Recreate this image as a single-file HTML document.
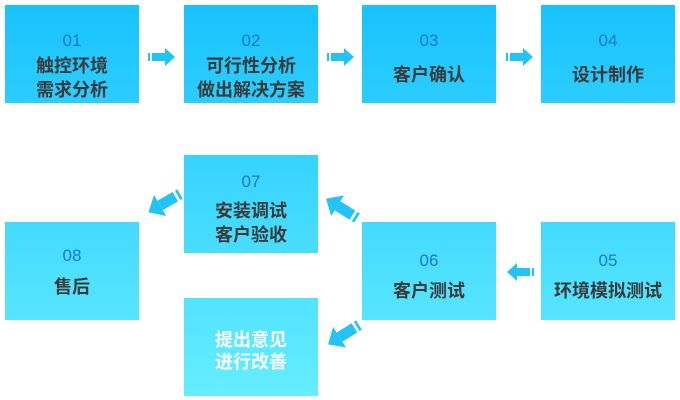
<!DOCTYPE html>
<html><head><meta charset="utf-8"><style>
body{margin:0;width:680px;height:400px;background:#fff;position:relative;overflow:hidden;font-family:"Liberation Sans","Noto Sans CJK SC",sans-serif}
.b{position:absolute;width:134px;height:98px;background:linear-gradient(to bottom,#17c2fe 0px,#66eeff 400px);background-attachment:fixed;text-align:center;box-sizing:border-box}
.n{color:#1a78cc;font-size:17px;line-height:20px;height:20px}
.t{color:#3a3a3a;font-weight:bold;font-size:18px;line-height:24px}
.w{color:#fff;line-height:22px}
svg{position:absolute;left:0;top:0}
</style></head><body>
<div class="b" style="left:5px;top:5px;padding-top:26px"><div class="n" style="margin-bottom:3px">01</div><div class="t">触控环境<br>需求分析</div></div>
<div class="b" style="left:184px;top:5px;padding-top:26px"><div class="n" style="margin-bottom:3px">02</div><div class="t">可行性分析<br>做出解决方案</div></div>
<div class="b" style="left:362px;top:5px;padding-top:26px"><div class="n" style="margin-bottom:12px">03</div><div class="t">客户确认</div></div>
<div class="b" style="left:541px;top:5px;padding-top:26px"><div class="n" style="margin-bottom:12px">04</div><div class="t">设计制作</div></div>
<div class="b" style="left:184px;top:155px;padding-top:17px"><div class="n" style="margin-bottom:7px">07</div><div class="t">安装调试<br>客户验收</div></div>
<div class="b" style="left:5px;top:222px;padding-top:24px"><div class="n" style="margin-bottom:9px">08</div><div class="t">售后</div></div>
<div class="b" style="left:362px;top:222px;padding-top:29px"><div class="n" style="margin-bottom:8px">06</div><div class="t">客户测试</div></div>
<div class="b" style="left:541px;top:222px;padding-top:29px"><div class="n" style="margin-bottom:8px">05</div><div class="t">环境模拟测试</div></div>
<div class="b" style="left:184px;top:298px;padding-top:31px"><div class="t w">提出意见<br>进行改善</div></div>
<svg width="680" height="400">
<defs><g id="a" fill="#22c4f8"><rect x="0" y="-4" width="2" height="8"/><rect x="4" y="-4" width="13" height="8"/><polygon points="17,-9 27,0 17,9"/></g></defs>
<use href="#a" transform="translate(148,57)"/>
<use href="#a" transform="translate(327,57)"/>
<use href="#a" transform="translate(506,57)"/>
<use href="#a" transform="translate(534,272) rotate(180)"/>
<use href="#a" transform="translate(357,218) rotate(-148) scale(1.35)"/>
<use href="#a" transform="translate(180,194) rotate(150) scale(1.35)"/>
<use href="#a" transform="translate(359,325) rotate(148) scale(1.35)"/>
</svg>
</body></html>
